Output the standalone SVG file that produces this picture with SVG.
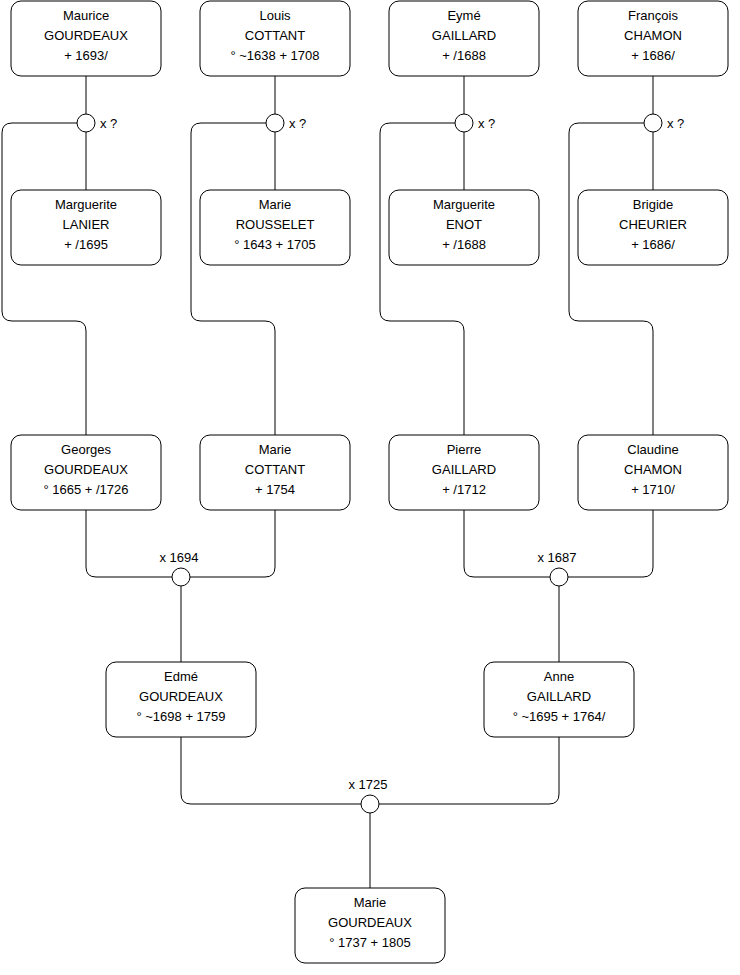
<svg xmlns="http://www.w3.org/2000/svg" width="740" height="975" viewBox="0 0 740 975">
<style>
.box{fill:#fff;stroke:#000;stroke-width:1}
.c{fill:#fff;stroke:#000;stroke-width:1}
.l{fill:none;stroke:#000;stroke-width:1}
text{font-family:"Liberation Sans",Arial,sans-serif;font-size:13px;fill:#000}
.m{text-anchor:middle}
</style>
<rect width="740" height="975" fill="#fff"/>
<g id="connectors">
<path class="l" d="M86 76V114"/><path class="l" d="M86 132V190"/>
<path class="l" d="M77 123H12Q2 123 2 133V311Q2 321 12 321H76Q86 321 86 331V435"/>
<path class="l" d="M275 76V114"/><path class="l" d="M275 132V190"/>
<path class="l" d="M266 123H201Q191 123 191 133V311Q191 321 201 321H265Q275 321 275 331V435"/>
<path class="l" d="M464 76V114"/><path class="l" d="M464 132V190"/>
<path class="l" d="M455 123H390Q380 123 380 133V311Q380 321 390 321H454Q464 321 464 331V435"/>
<path class="l" d="M653 76V114"/><path class="l" d="M653 132V190"/>
<path class="l" d="M644 123H579Q569 123 569 133V311Q569 321 579 321H643Q653 321 653 331V435"/>
<path class="l" d="M86 510V567Q86 577 96 577H172"/>
<path class="l" d="M275 510V567Q275 577 265 577H190"/>
<path class="l" d="M181 586V662"/>
<path class="l" d="M464 510V567Q464 577 474 577H550"/>
<path class="l" d="M653 510V567Q653 577 643 577H568"/>
<path class="l" d="M559 586V662"/>
<path class="l" d="M181 737V794Q181 804 191 804H361"/>
<path class="l" d="M559 737V794Q559 804 549 804H379"/>
<path class="l" d="M370 813V888"/>
</g>
<g id="u1"><circle class="c" cx="86" cy="123" r="9"/><text x="100" y="128">x ?</text></g>
<g id="u2"><circle class="c" cx="275" cy="123" r="9"/><text x="289" y="128">x ?</text></g>
<g id="u3"><circle class="c" cx="464" cy="123" r="9"/><text x="478" y="128">x ?</text></g>
<g id="u4"><circle class="c" cx="653" cy="123" r="9"/><text x="667" y="128">x ?</text></g>
<g id="u5"><circle class="c" cx="181" cy="577" r="9"/><text class="m" x="179" y="562">x 1694</text></g>
<g id="u6"><circle class="c" cx="559" cy="577" r="9"/><text class="m" x="557" y="562">x 1687</text></g>
<g id="u7"><circle class="c" cx="370" cy="804" r="9"/><text class="m" x="368" y="789">x 1725</text></g>
<g id="maurice"><rect class="box" x="11" y="1" width="150" height="75" rx="10"/><text class="m" x="86" y="20">Maurice</text><text class="m" x="86" y="40">GOURDEAUX</text><text class="m" x="86" y="60">+ 1693/</text></g>
<g id="louis"><rect class="box" x="200" y="1" width="150" height="75" rx="10"/><text class="m" x="275" y="20">Louis</text><text class="m" x="275" y="40">COTTANT</text><text class="m" x="275" y="60">° ~1638 + 1708</text></g>
<g id="eyme"><rect class="box" x="389" y="1" width="150" height="75" rx="10"/><text class="m" x="464" y="20">Eymé</text><text class="m" x="464" y="40">GAILLARD</text><text class="m" x="464" y="60">+ /1688</text></g>
<g id="francois"><rect class="box" x="578" y="1" width="150" height="75" rx="10"/><text class="m" x="653" y="20">François</text><text class="m" x="653" y="40">CHAMON</text><text class="m" x="653" y="60">+ 1686/</text></g>
<g id="marguerite-lanier"><rect class="box" x="11" y="190" width="150" height="75" rx="10"/><text class="m" x="86" y="209">Marguerite</text><text class="m" x="86" y="229">LANIER</text><text class="m" x="86" y="249">+ /1695</text></g>
<g id="marie-rousselet"><rect class="box" x="200" y="190" width="150" height="75" rx="10"/><text class="m" x="275" y="209">Marie</text><text class="m" x="275" y="229">ROUSSELET</text><text class="m" x="275" y="249">° 1643 + 1705</text></g>
<g id="marguerite-enot"><rect class="box" x="389" y="190" width="150" height="75" rx="10"/><text class="m" x="464" y="209">Marguerite</text><text class="m" x="464" y="229">ENOT</text><text class="m" x="464" y="249">+ /1688</text></g>
<g id="brigide"><rect class="box" x="578" y="190" width="150" height="75" rx="10"/><text class="m" x="653" y="209">Brigide</text><text class="m" x="653" y="229">CHEURIER</text><text class="m" x="653" y="249">+ 1686/</text></g>
<g id="georges"><rect class="box" x="11" y="435" width="150" height="75" rx="10"/><text class="m" x="86" y="454">Georges</text><text class="m" x="86" y="474">GOURDEAUX</text><text class="m" x="86" y="494">° 1665 + /1726</text></g>
<g id="marie-cottant"><rect class="box" x="200" y="435" width="150" height="75" rx="10"/><text class="m" x="275" y="454">Marie</text><text class="m" x="275" y="474">COTTANT</text><text class="m" x="275" y="494">+ 1754</text></g>
<g id="pierre"><rect class="box" x="389" y="435" width="150" height="75" rx="10"/><text class="m" x="464" y="454">Pierre</text><text class="m" x="464" y="474">GAILLARD</text><text class="m" x="464" y="494">+ /1712</text></g>
<g id="claudine"><rect class="box" x="578" y="435" width="150" height="75" rx="10"/><text class="m" x="653" y="454">Claudine</text><text class="m" x="653" y="474">CHAMON</text><text class="m" x="653" y="494">+ 1710/</text></g>
<g id="edme"><rect class="box" x="106" y="662" width="150" height="75" rx="10"/><text class="m" x="181" y="681">Edmé</text><text class="m" x="181" y="701">GOURDEAUX</text><text class="m" x="181" y="721">° ~1698 + 1759</text></g>
<g id="anne"><rect class="box" x="484" y="662" width="150" height="75" rx="10"/><text class="m" x="559" y="681">Anne</text><text class="m" x="559" y="701">GAILLARD</text><text class="m" x="559" y="721">° ~1695 + 1764/</text></g>
<g id="marie-gourdeaux"><rect class="box" x="295" y="888" width="150" height="75" rx="10"/><text class="m" x="370" y="907">Marie</text><text class="m" x="370" y="927">GOURDEAUX</text><text class="m" x="370" y="947">° 1737 + 1805</text></g>
</svg>
